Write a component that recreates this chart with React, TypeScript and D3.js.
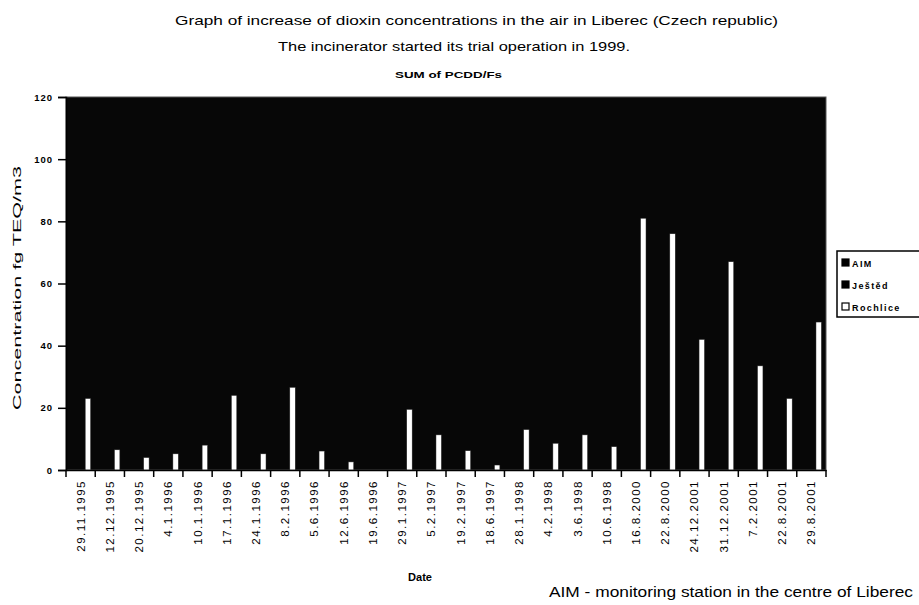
import { useRef, useEffect } from "react";
import { select, scaleBand, scaleLinear, axisLeft, axisBottom } from "d3";

const dates = [
  "29.11.1995", "12.12.1995", "20.12.1995", "4.1.1996", "10.1.1996", "17.1.1996",
  "24.1.1996", "8.2.1996", "5.6.1996", "12.6.1996", "19.6.1996", "29.1.1997",
  "5.2.1997", "19.2.1997", "18.6.1997", "28.1.1998", "4.2.1998", "3.6.1998",
  "10.6.1998", "16.8.2000", "22.8.2000", "24.12.2001", "31.12.2001", "7.2.2001",
  "22.8.2001", "29.8.2001",
];
const series = ["AIM", "Ještěd", "Rochlice"];
const seriesFill = ["#000", "#000", "#fff"];
const rochlice = [23, 6.5, 4, 5.2, 8, 24, 5.2, 26.6, 6.1, 2.6, 0, 19.5, 11.3, 6.2, 1.6, 13, 8.6, 11.3, 7.5, 81, 76, 42, 67, 33.5, 23, 47.6];
const yTicks = [0, 20, 40, 60, 80, 100, 120];

const W = 919, H = 605;
const plot = { left: 66, right: 826, top: 97, bottom: 470 };
const font = "'Liberation Sans', Arial, sans-serif";

export default function App() {
  const svgRef = useRef<SVGSVGElement>(null);

  useEffect(() => {
    const svg = select(svgRef.current);
    svg.selectAll("*").remove();

    const x = scaleBand().domain(dates).range([plot.left, plot.right]);
    const bw = x.bandwidth();
    const x1 = scaleBand().domain(series).range([bw * 0.25, bw * 0.86]);
    const y = scaleLinear().domain([0, 120]).range([plot.bottom, plot.top]);

    // titles
    const addText = (t: string, tx: number, ty: number, size: number, len: number, weight = "normal") =>
      svg.append("text").attr("x", tx).attr("y", ty)
        .attr("font-family", font).attr("font-size", size).attr("font-weight", weight)
        .attr("textLength", len).attr("lengthAdjust", "spacingAndGlyphs")
        .attr("fill", "#000").text(t);
    addText("Graph of increase of dioxin concentrations in the air in Liberec (Czech republic)", 175, 25, 13.5, 603);
    addText("The incinerator started its trial operation in 1999.", 278, 51, 13.5, 352);
    addText("SUM of PCDD/Fs", 395, 78, 9.5, 107, "bold");
    addText("Date", 408, 581, 10, 24, "bold");
    addText("AIM - monitoring station in the centre of Liberec", 549, 597, 14, 364);
    svg.append("text")
      .attr("transform", "translate(21,410) rotate(-90)")
      .attr("font-family", font).attr("font-size", 11)
      .attr("textLength", 244).attr("lengthAdjust", "spacingAndGlyphs")
      .attr("fill", "#000").text("Concentration fg TEQ/m3");

    svg.append("rect")
      .attr("x", plot.left).attr("y", plot.top)
      .attr("width", plot.right - plot.left).attr("height", plot.bottom - plot.top)
      .attr("fill", "#070707").attr("stroke", "#555").attr("stroke-width", 1);

    const groups = svg.append("g").selectAll("g")
      .data(dates)
      .join("g")
      .attr("transform", d => `translate(${x(d)},0)`);

    groups.selectAll("rect")
      .data((d, i) => series.map((s, k) => ({ s, k, v: s === "Rochlice" ? rochlice[i] : null })))
      .join("rect")
      .filter(d => d.v !== null && d.v > 0)
      .attr("x", d => x1(d.s)!)
      .attr("width", x1.bandwidth() - 0.5)
      .attr("y", d => y(d.v!))
      .attr("height", d => y(0) - y(d.v!))
      .attr("fill", d => seriesFill[d.k])
      .attr("stroke", "#222")
      .attr("stroke-width", 0.5);

    const yAxis = axisLeft(y).tickValues(yTicks).tickSize(8).tickPadding(5);
    const gy = svg.append("g").attr("transform", `translate(${plot.left},0)`).call(yAxis);
    gy.select(".domain").attr("stroke", "#000").attr("stroke-width", 1.5);
    gy.selectAll("line").attr("stroke", "#000").attr("stroke-width", 1.5);
    gy.selectAll("text")
      .attr("font-family", font).attr("font-size", 9.5).attr("font-weight", "bold")
      .attr("letter-spacing", 1).attr("fill", "#000");

    const xAxis = axisBottom(x).tickSize(0).tickPadding(0);
    const gx = svg.append("g").attr("transform", `translate(0,${plot.bottom})`).call(xAxis);
    gx.select(".domain").attr("stroke", "#000").attr("stroke-width", 1.5);
    gx.selectAll("text")
      .attr("font-family", font).attr("font-size", 11.5).attr("letter-spacing", 1.5)
      .attr("fill", "#000")
      .attr("text-anchor", "end")
      .attr("transform", "rotate(-90)")
      .attr("x", -10).attr("y", 0).attr("dy", "0.35em");

    // tick marks on category boundaries
    svg.append("g").selectAll("line")
      .data(dates.concat(["_end"]))
      .join("line")
      .attr("x1", (d, i) => plot.left + i * bw).attr("x2", (d, i) => plot.left + i * bw)
      .attr("y1", plot.bottom).attr("y2", plot.bottom + 7)
      .attr("stroke", "#000").attr("stroke-width", 1.5);

    // legend
    const lg = svg.append("g").attr("transform", "translate(837,251)");
    lg.append("rect").attr("width", 90).attr("height", 66)
      .attr("fill", "#fff").attr("stroke", "#000").attr("stroke-width", 1.5);
    series.forEach((s, i) => {
      const row = lg.append("g").attr("transform", `translate(5,${8 + i * 22})`);
      row.append("rect").attr("width", 7).attr("height", 7)
        .attr("fill", seriesFill[i]).attr("stroke", "#000").attr("stroke-width", 1.2);
      row.append("text").attr("x", 10).attr("y", 7.5)
        .attr("font-family", font).attr("font-size", 9).attr("font-weight", "bold")
        .attr("letter-spacing", 1.4).text(s);
    });
  }, []);

  return (
    <svg ref={svgRef} width={W} height={H}
      style={{ position: "absolute", left: 0, top: 0, background: "#fff" }} />
  );
}
